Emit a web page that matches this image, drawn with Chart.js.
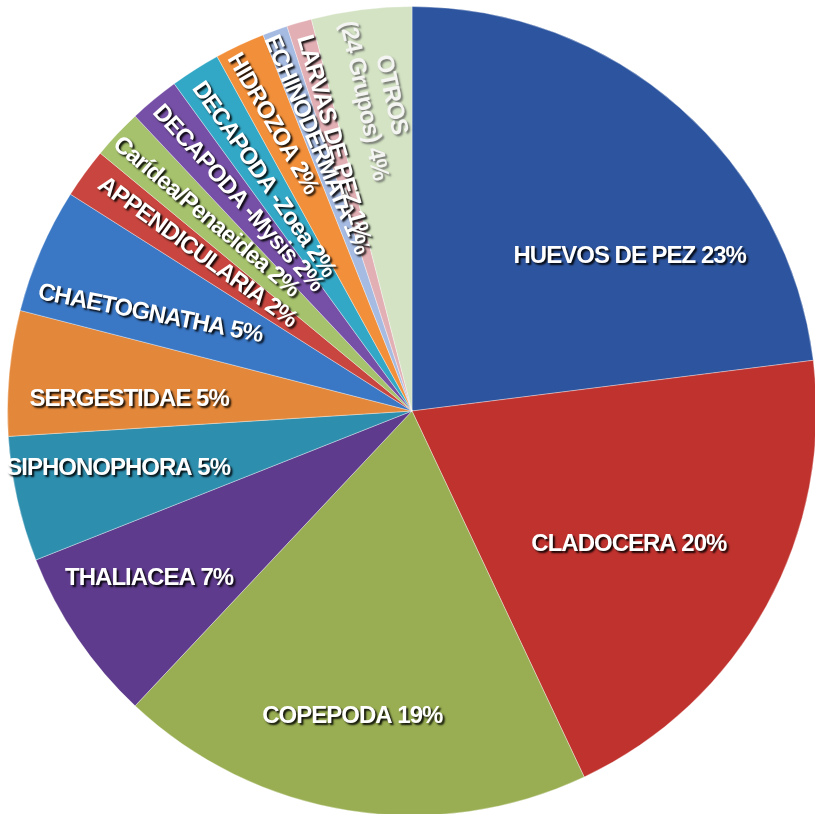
<!DOCTYPE html>
<html>
<head>
<meta charset="utf-8">
<script src="https://cdn.jsdelivr.net/npm/chart.js@4/dist/chart.umd.min.js"></script>
<style>
  html, body { margin: 0; padding: 0; background: #fff; overflow: hidden; }
  #wrap { position: absolute; left: 7px; top: 6px; width: 810px; height: 810px; }
</style>
</head>
<body>
<div id="wrap"><canvas id="pie"></canvas></div>
<script>
// Composición del zooplancton (% del total)
const CATEGORIES = [
    'HUEVOS DE PEZ', 'CLADOCERA', 'COPEPODA', 'THALIACEA', 'SIPHONOPHORA',
    'SERGESTIDAE', 'CHAETOGNATHA', 'APPENDICULARIA', 'Carídea/Penaeidea',
    'DECAPODA -Mysis', 'DECAPODA -Zoea', 'HIDROZOA', 'ECHINODERMATA',
    'LARVAS DE PEZ', 'OTROS\n(24 Grupos)'
];
const PERCENTS = [23, 20, 19, 7, 5, 5, 5, 2, 2, 2, 2, 2, 1, 1, 4];

const COLORS = [
    '#2D559F', '#C0322E', '#99AE52', '#5E3B8C', '#2E8EAE',
    '#E3883A', '#3A77C4', '#C8463F', '#A6C26C', '#7650A6',
    '#33A8C6', '#F28F3A', '#A6BBE2', '#E2AFB4', '#D3E3C3'
];

// label placement: fraction along the slice, fraction of radius, rotation (deg)
const LABEL_AT     = [0.66, 0.54, 0.53, 0.57, 0.59, 0.33, 0.33, 0.56, 0.51, 0.54, 0.46, 0.40, 0.50, 0.50, 0.56];
const LABEL_RADIUS = [0.66, 0.63, 0.77, 0.77, 0.74, 0.70, 0.69, 0.66, 0.70, 0.68, 0.68, 0.79, 0.70, 0.70, 0.78];
const LABEL_ROT    = [0, 0, 0, 0, 0, 0, 11, 36, 40, 48, 55, 60, 67, 74, 78];

const sliceLabels = {
    id: 'sliceLabels',
    afterDatasetsDraw(chart) {
        const ctx = chart.ctx;
        const arcs = chart.getDatasetMeta(0).data;
        ctx.save();
        ctx.font = 'bold 24px "Liberation Sans", Arial, sans-serif';
        ctx.letterSpacing = '-1px';
        ctx.textAlign = 'center';
        ctx.textBaseline = 'middle';
        arcs.forEach((arc, i) => {
            const p = arc.getProps(['x', 'y', 'startAngle', 'endAngle', 'outerRadius'], true);
            const a = p.startAngle + LABEL_AT[i] * (p.endAngle - p.startAngle);
            const r = LABEL_RADIUS[i] * p.outerRadius;
            const lines = CATEGORIES[i].split('\n');
            lines[lines.length - 1] += ' ' + PERCENTS[i] + '%';
            const pale = i === CATEGORIES.length - 1;

            ctx.save();
            ctx.translate(p.x + Math.cos(a) * r, p.y + Math.sin(a) * r);
            ctx.rotate(LABEL_ROT[i] * Math.PI / 180);
            ctx.shadowColor = pale ? 'rgba(90,90,90,0.75)' : 'rgba(0,0,0,0.9)';
            ctx.shadowOffsetX = 2;
            ctx.shadowOffsetY = 2;
            ctx.shadowBlur = 2;
            ctx.fillStyle = pale ? '#F4F4F2' : '#FFFFFF';
            const lh = 28;
            lines.forEach((ln, k) => {
                ctx.fillText(ln, 0, (k - (lines.length - 1) / 2) * lh);
            });
            ctx.restore();
        });
        ctx.restore();
    }
};

new Chart(document.getElementById('pie'), {
    type: 'pie',
    data: {
        labels: CATEGORIES,
        datasets: [{
            data: PERCENTS,
            backgroundColor: COLORS,
            borderColor: 'rgba(255,255,255,0.35)',
            borderWidth: 1,
        }],
    },
    options: {
        responsive: true,
        maintainAspectRatio: false,
        animation: false,
        layout: { padding: 0 },
        plugins: { legend: { display: false }, tooltip: { enabled: false } },
    },
    plugins: [sliceLabels],
});
</script>
</body>
</html>
